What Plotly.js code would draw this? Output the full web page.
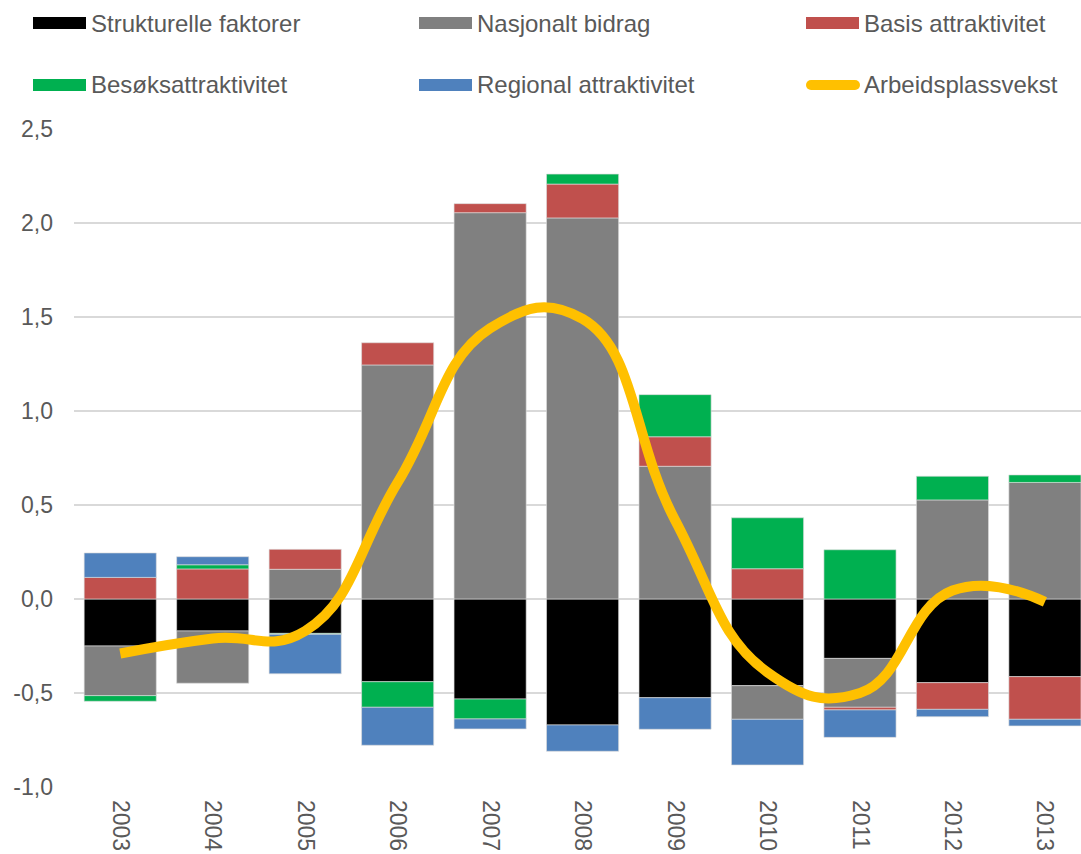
<!DOCTYPE html>
<html>
<head>
<meta charset="utf-8">
<script src="https://cdn.plot.ly/plotly-3.0.1.min.js"></script>
<style>
html,body{margin:0;padding:0;background:#fff;overflow:hidden;}
#chart{width:1081px;height:854px;}
</style>
</head>
<body>
<div id="chart"></div>
<script>
// ---- data ----
const years = ['2003','2004','2005','2006','2007','2008','2009','2010','2011','2012','2013'];
const strukturelle = [-0.25, -0.17, -0.183, -0.44, -0.532, -0.67, -0.525, -0.461, -0.316, -0.445, -0.413];
const nasjonalt    = [-0.264, -0.278, 0.158, 1.245, 2.055, 2.027, 0.706, -0.179, -0.26, 0.527, 0.62];
const basis        = [0.115, 0.16, 0.106, 0.118, 0.048, 0.18, 0.157, 0.161, -0.014, -0.142, -0.227];
const besok        = [-0.03, 0.022, -0.005, -0.136, -0.106, 0.053, 0.224, 0.271, 0.262, 0.126, 0.04];
const regional     = [0.13, 0.043, -0.21, -0.202, -0.053, -0.14, -0.168, -0.243, -0.146, -0.039, -0.035];
const arbeidsplassvekst = [-0.29, -0.21, -0.17, 0.62, 1.44, 1.49, 0.42, -0.39, -0.50, 0.045, -0.015];

const seriesNames = ['Strukturelle faktorer','Nasjonalt bidrag','Basis attraktivitet','Besøksattraktivitet','Regional attraktivitet','Arbeidsplassvekst'];
const seriesColors = ['#000000','#808080','#C0504D','#00B050','#4F81BD','#FFC000'];
const yTickVals = [-1, -0.5, 0, 0.5, 1, 1.5, 2, 2.5];
const yTickText = ['-1,0','-0,5','0,0','0,5','1,0','1,5','2,0','2,5'];

// ---- traces ----
const barSeries = [strukturelle, nasjonalt, basis, besok, regional];
const traces = barSeries.map((vals, i) => ({
  type: 'bar', x: years, y: vals, name: seriesNames[i],
  marker: {color: seriesColors[i], line: {color: 'rgba(220,220,220,0.8)', width: 0.8}},
  showlegend: false
}));
traces.push({
  type: 'scatter', mode: 'lines', x: years, y: arbeidsplassvekst, name: seriesNames[5],
  line: {color: seriesColors[5], width: 10, shape: 'spline', smoothing: 1.3},
  showlegend: false
});

// ---- layout helpers (pixel -> paper) ----
const L = 74, R = 1081, T = 129, B = 787;
const px = x => (x - L) / (R - L);
const py = y => (B - y) / (B - T);

const legendPos = [
  {sx: 33, tx: 89, y: 23}, {sx: 419, tx: 475, y: 23}, {sx: 806, tx: 862, y: 23},
  {sx: 33, tx: 89, y: 85}, {sx: 419, tx: 475, y: 85}, {sx: 806, tx: 862, y: 85}
];
const shapes = [], annotations = [];
legendPos.forEach((p, i) => {
  if (i < 5) {
    shapes.push({type: 'rect', xref: 'paper', yref: 'paper',
      x0: px(p.sx), x1: px(p.sx + 53), y0: py(p.y - 6), y1: py(p.y + 6),
      fillcolor: seriesColors[i], line: {width: 0}});
  } else {
    shapes.push({type: 'line', xref: 'paper', yref: 'paper',
      x0: px(p.sx + 5), x1: px(p.sx + 49), y0: py(p.y), y1: py(p.y),
      line: {color: seriesColors[i], width: 10}});
    shapes.push({type: 'circle', xref: 'paper', yref: 'paper',
      x0: px(p.sx), x1: px(p.sx + 10), y0: py(p.y - 5), y1: py(p.y + 5),
      fillcolor: seriesColors[i], line: {width: 0}});
    shapes.push({type: 'circle', xref: 'paper', yref: 'paper',
      x0: px(p.sx + 44), x1: px(p.sx + 54), y0: py(p.y - 5), y1: py(p.y + 5),
      fillcolor: seriesColors[i], line: {width: 0}});
  }
  annotations.push({xref: 'paper', yref: 'paper', x: px(p.tx), y: py(p.y),
    xanchor: 'left', yanchor: 'middle', showarrow: false, text: seriesNames[i],
    font: {family: 'Liberation Sans, Arial, sans-serif', size: 24, color: '#595959'}});
});

const layout = {
  width: 1081, height: 854,
  margin: {l: L, r: 1081 - R, t: T, b: 854 - B, pad: 0},
  paper_bgcolor: '#ffffff', plot_bgcolor: '#ffffff',
  barmode: 'relative', bargap: 0.22,
  showlegend: false,
  font: {family: 'Liberation Sans, Arial, sans-serif', size: 23, color: '#595959'},
  xaxis: {
    type: 'category', range: [-0.5, 10.39], tickangle: 90,
    showgrid: false, zeroline: false, showline: false, ticks: '',
    tickfont: {size: 23, color: '#595959'}, ticklabelstandoff: 12, fixedrange: true
  },
  yaxis: {
    range: [-1, 2.5], tickvals: yTickVals, ticktext: yTickText,
    showgrid: true, gridcolor: '#D9D9D9', gridwidth: 1.5,
    zeroline: true, zerolinecolor: '#D9D9D9', zerolinewidth: 1.5,
    showline: false, ticks: '', tickfont: {size: 23, color: '#595959'},
    ticklabelstandoff: 20, fixedrange: true
  },
  shapes: shapes, annotations: annotations
};

Plotly.newPlot('chart', traces, layout, {displayModeBar: false, staticPlot: true});
</script>
</body>
</html>
